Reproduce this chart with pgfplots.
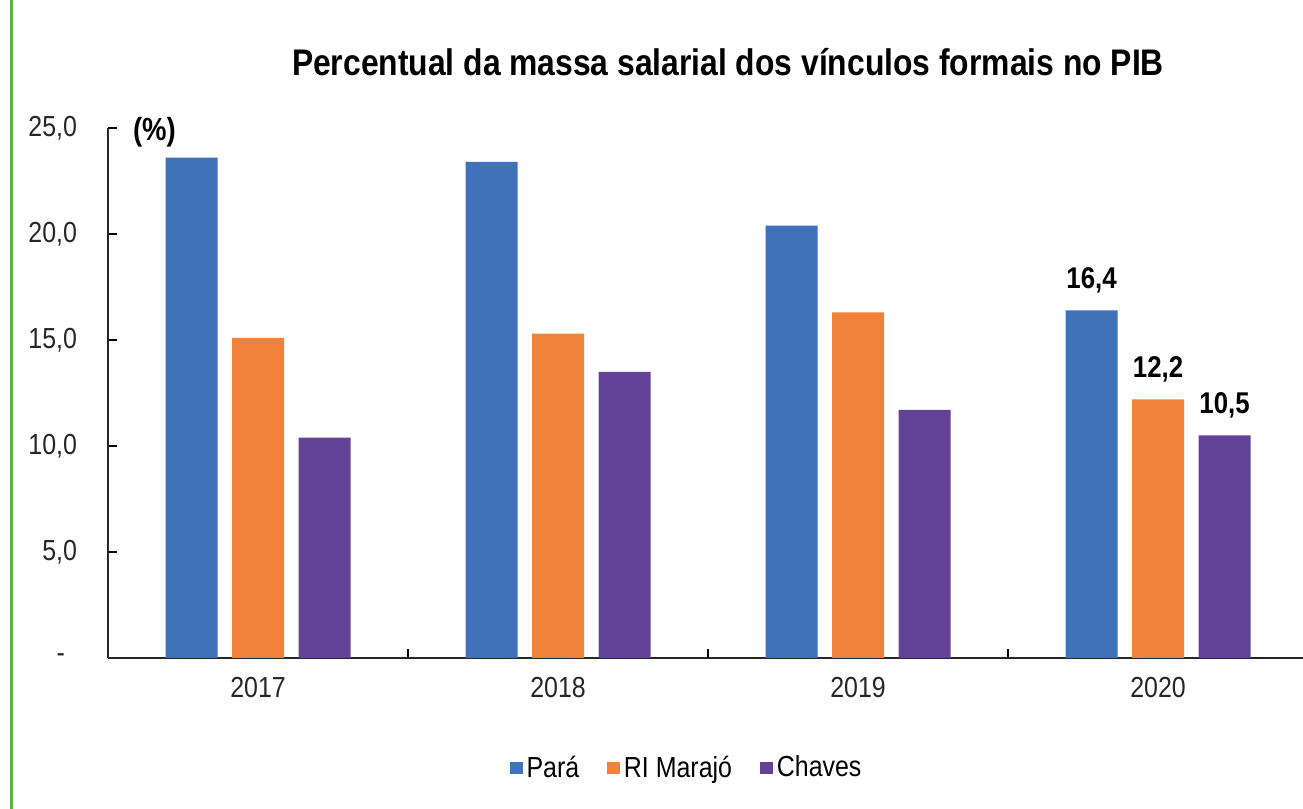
\documentclass[border=0pt]{standalone}
\usepackage{pgfplots}
\pgfplotsset{compat=1.18}
\usepackage{fontspec}
\setmainfont{Liberation Sans}[FakeStretch=0.86]
\definecolor{cpara}{RGB}{63,114,185}
\definecolor{cmarajo}{RGB}{240,130,58}
\definecolor{cchaves}{RGB}{99,67,151}
\definecolor{cgreen}{RGB}{96,178,72}
\begin{document}
\begin{tikzpicture}
% 1 px do original = 0.5pt
\path[use as bounding box] (0,0) rectangle (651.5pt,404.5pt);
\draw[cgreen, line width=1.5pt] (5.5pt,0) -- (5.5pt,404.5pt);
\node[font=\fontsize{18.5}{20}\selectfont\bfseries] at (364pt,373.5pt)
  {Percentual da massa salarial dos vínculos formais no PIB};
\begin{axis}[
    at={(54pt,75.5pt)}, anchor=south west,
    scale only axis,
    width=597.5pt, height=265pt,
    ybar=7.25pt, bar width=26pt,
    xmin=-0.5, xmax=3.483,
    ymin=0, ymax=25,
    axis lines=left,
    axis line style={-, line width=1pt, black!85},
    /pgf/number format/assume math mode=true,
    xtick={0,1,2,3},
    xticklabels={2017,2018,2019,2020},
    major x tick style={draw=none},
    minor xtick={0.5,1.5,2.5},
    minor x tick style={black, line width=0.8pt},
    minor tick length=4.5pt,
    tick align=inside,
    ytick={0,5,10,15,20,25},
    yticklabels={{-\rule{6pt}{0pt}},{5,0},{10,0},{15,0},{20,0},{25,0}},
    major y tick style={black, line width=0.8pt},
    major tick length=4.5pt,
    tick label style={font=\fontsize{14.5}{16}\selectfont, black!85},
    yticklabel style={xshift=-12pt},
    xticklabel style={yshift=-6pt},
    nodes near coords=\pgfplotspointmeta,
    point meta=explicit symbolic,
    nodes near coords style={font=\fontsize{15}{17}\selectfont\bfseries, yshift=5pt},
    legend columns=3,
    legend style={draw=none, at={(0.485,-0.2075)}, anchor=center,
        font=\fontsize{14.5}{16}\selectfont, /tikz/every even column/.append style={column sep=12pt}},
    legend image code/.code={\fill[#1] (0pt,-3.2pt) rectangle (6.4pt,3.2pt);},
    clip=false,
]
\addplot[fill=cpara, draw=none] coordinates {(0,23.6) [] (1,23.4) [] (2,20.4) [] (3,16.4) [16,4]};
\addplot[fill=cmarajo, draw=none] coordinates {(0,15.1) [] (1,15.3) [] (2,16.3) [] (3,12.2) [12,2]};
\addplot[fill=cchaves, draw=none] coordinates {(0,10.4) [] (1,13.5) [] (2,11.7) [] (3,10.5) [10,5]};
\legend{Pará, RI Marajó, Chaves}
\node[anchor=west, font=\fontsize{16}{18}\selectfont\bfseries] at (axis cs:-0.44,24.8) {(\%)};
\end{axis}
\end{tikzpicture}
\end{document}
